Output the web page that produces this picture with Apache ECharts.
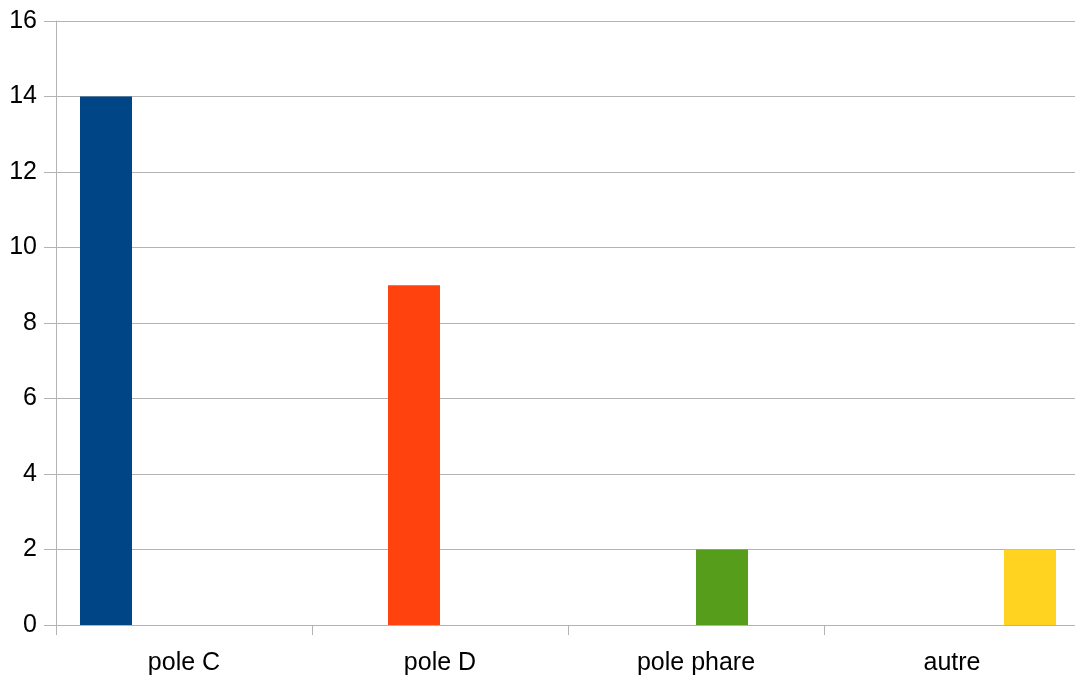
<!DOCTYPE html>
<html><head><meta charset="utf-8">
<script src="https://cdn.jsdelivr.net/npm/echarts@6/dist/echarts.min.js"></script>
<style>html,body{margin:0;padding:0;background:#fff;overflow:hidden}#c{width:1080px;height:677px}</style>
</head><body><div id="c"></div>
<script>
const categories = ['pole C', 'pole D', 'pole phare', 'autre'];
const seriesNames = ['pole C', 'pole D', 'pole phare', 'autre'];
const seriesValues = [
  [14, '-', '-', '-'],
  ['-', 9, '-', '-'],
  ['-', '-', 2, '-'],
  ['-', '-', '-', 2]
];
const colors = ['#004586', '#ff420e', '#579d1c', '#ffd320'];
const yTicks = { min: 0, max: 16, interval: 2 };

const chart = echarts.init(document.getElementById('c'), null, { renderer: 'canvas' });
chart.setOption({
  animation: false,
  grid: { left: 56, top: 21, width: 1024, height: 604, containLabel: false },
  xAxis: {
    type: 'category',
    data: categories,
    axisLine: { show: true, lineStyle: { color: '#b3b3b3', width: 1 } },
    axisTick: { show: true, length: 10, alignWithLabel: false, lineStyle: { color: '#b3b3b3' } },
    axisLabel: { color: '#000', fontFamily: 'Liberation Sans', fontSize: 25, margin: 26 },
    splitLine: { show: false }
  },
  yAxis: {
    type: 'value',
    min: yTicks.min, max: yTicks.max, interval: yTicks.interval,
    axisLine: { show: true, lineStyle: { color: '#b3b3b3', width: 1 } },
    axisTick: { show: true, length: 12, lineStyle: { color: '#b3b3b3' } },
    axisLabel: { color: '#000', fontFamily: 'Liberation Sans', fontSize: 25, margin: 19, padding: [4, 0, 0, 0] },
    splitLine: { show: true, lineStyle: { color: '#b3b3b3', width: 1 } }
  },
  series: seriesValues.map((vals, i) => ({
    name: seriesNames[i],
    type: 'bar',
    data: vals,
    barGap: '0%',
    barCategoryGap: '18.75%',
    itemStyle: { color: colors[i] }
  }))
});
</script></body></html>
